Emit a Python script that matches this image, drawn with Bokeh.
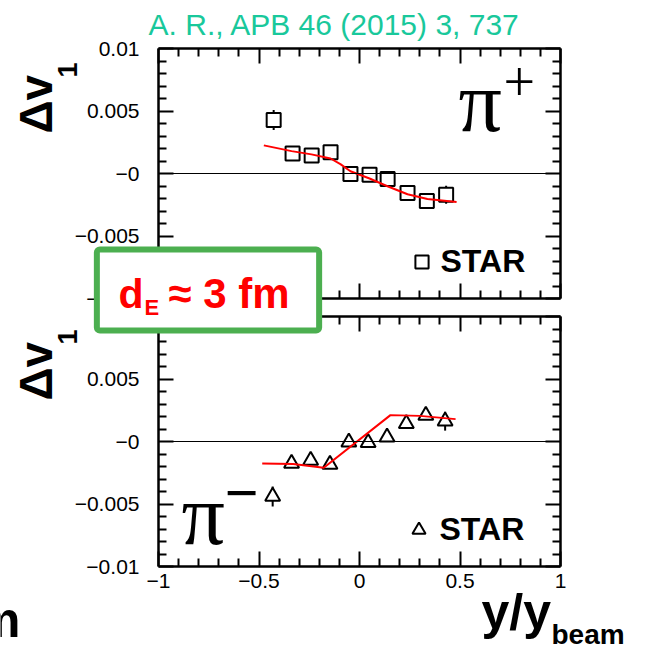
import numpy as np
from bokeh.plotting import figure
from bokeh.models import (Range1d, LinearAxis, FixedTicker, Label,
                          Legend, LegendItem)
from bokeh.embed import file_html
from bokeh.resources import INLINE

# ---------------- data ----------------
# pi+ (top panel), STAR points
pip_x = [-0.427, -0.333, -0.238, -0.144, -0.045, 0.050, 0.140, 0.239, 0.335, 0.431]
pip_y = [0.00428, 0.00160, 0.00145, 0.00170, -0.00003, -0.00010, -0.00043, -0.00156, -0.00220, -0.00170]
pip_err = [0.00080, 0.00030, 0.00030, 0.00030, 0.00030, 0.00030, 0.00030, 0.00030, 0.00030, 0.00072]
# pi+ model curve
pip_mx = [-0.476, -0.338, -0.239, -0.144, -0.095, -0.045, 0.050, 0.139, 0.239, 0.338, 0.483]
pip_my = [0.00225, 0.00179, 0.00153, 0.00120, 0.00075, 0.00018, -0.00040, -0.00102, -0.00166, -0.00204, -0.00228]

# pi- (bottom panel), STAR points
pim_x = [-0.432, -0.338, -0.243, -0.147, -0.053, 0.043, 0.137, 0.233, 0.330, 0.426]
pim_y = [-0.00440, -0.00176, -0.00152, -0.00184, -0.00005, -0.00010, 0.00035, 0.00142, 0.00208, 0.00163]
pim_err = [0.00080, 0.00030, 0.00030, 0.00030, 0.00030, 0.00030, 0.00030, 0.00030, 0.00030, 0.00076]
# pi- model curve
pim_mx = [-0.484, -0.330, -0.178, 0.154, 0.300, 0.478]
pim_my = [-0.00176, -0.00180, -0.00210, 0.00211, 0.00205, 0.00179]

# ticks
x_major = [-1.0, -0.5, 0.0, 0.5, 1.0]
x_labels = ["\u22121", "\u22120.5", "0", "0.5", "1"]
y_major = [-0.01, -0.005, 0.0, 0.005, 0.01]
y_labels = ["\u22120.01", "\u22120.005", "\u22120", "0.005", "0.01"]

x_minor = [round(v, 2) for v in np.arange(-1.0, 1.0001, 0.1) if round(v, 2) not in x_major]
y_minor = [round(v, 4) for v in np.arange(-0.01, 0.01001, 0.001) if round(v, 4) not in y_major]

# ---------------- layout (canvas px) ----------------
W, H = 631, 652
XL, XR = 158, 560            # x = -1 and x = 1
TOP_T, BOT_T = 48, 316       # y = 0.01 of top / bottom panel
PX_Y = 0.02 / 250            # data units per pixel (y)
PX_X = 2.0 / (XR - XL)       # data units per pixel (x)

p = figure(width=W, height=H, output_backend="svg", toolbar_location=None,
           x_range=Range1d(-1 - XL * PX_X, 1 + (W - XR) * PX_X),
           y_range=Range1d(0.01 - (H - TOP_T) * PX_Y, 0.01 + TOP_T * PX_Y),
           min_border=0, x_axis_type=None, y_axis_type=None)
p.extra_y_ranges = {"bot": Range1d(0.01 - (H - BOT_T) * PX_Y, 0.01 + BOT_T * PX_Y)}
p.outline_line_color = None
p.background_fill_color = "white"
p.border_fill_color = "white"

FONT = "Liberation Sans"


def style_axis(ax, show_labels, overrides=None, standoff=10):
    ax.major_tick_in = 15
    ax.major_tick_out = 0
    ax.minor_tick_in = 8
    ax.minor_tick_out = 0
    ax.axis_line_width = 2.5
    ax.axis_line_color = "black"
    ax.major_tick_line_width = 2
    ax.minor_tick_line_width = 2
    ax.major_tick_line_color = "black"
    ax.minor_tick_line_color = "black"
    ax.major_label_text_font = FONT
    ax.major_label_text_font_size = "21px"
    ax.major_label_text_color = "black"
    ax.major_label_standoff = standoff
    if show_labels:
        ax.major_label_overrides = overrides
    else:
        ax.major_label_text_alpha = 0
        ax.major_label_text_font_size = "1px"
    return ax


def yaxis(rng, fixed, labels=True):
    ax = LinearAxis(y_range_name=rng, bounds=(-0.01, 0.01), fixed_location=fixed,
                    ticker=FixedTicker(ticks=y_major, minor_ticks=y_minor))
    return style_axis(ax, labels, dict(zip(y_major, y_labels)), standoff=19)


def xaxis(rng, fixed, labels=False):
    ax = LinearAxis(y_range_name=rng, bounds=(-1, 1), fixed_location=fixed,
                    ticker=FixedTicker(ticks=x_major, minor_ticks=x_minor))
    return style_axis(ax, labels, dict(zip(x_major, x_labels)), standoff=7)


def zero_line(rng):
    ax = LinearAxis(y_range_name=rng, bounds=(-1, 1), fixed_location=0,
                    ticker=FixedTicker(ticks=[]))
    ax.axis_line_width = 1
    ax.axis_line_color = "black"
    ax.major_tick_line_color = None
    ax.minor_tick_line_color = None
    ax.major_label_text_alpha = 0
    ax.major_label_text_font_size = "1px"
    return ax


for rng in ("default", "bot"):
    p.add_layout(zero_line(rng), "below")
    p.add_layout(yaxis(rng, -1), "left")
    p.add_layout(yaxis(rng, 1, labels=False), "right")
    p.add_layout(xaxis(rng, 0.01), "above")
    p.add_layout(xaxis(rng, -0.01, labels=(rng == "bot")), "below")

# ---------------- data marks ----------------
pip_lo = [y - e for y, e in zip(pip_y, pip_err)]
pip_hi = [y + e for y, e in zip(pip_y, pip_err)]
pim_lo = [y - e for y, e in zip(pim_y, pim_err)]
pim_hi = [y + e for y, e in zip(pim_y, pim_err)]

p.segment(x0=pip_x, y0=pip_lo, x1=pip_x, y1=pip_hi, line_color="black", line_width=2)
sq = p.scatter(pip_x, pip_y, marker="square", size=14, line_color="black",
               line_width=2, fill_color="white")
p.line(pip_mx, pip_my, line_color="red", line_width=2)

p.segment(x0=pim_x, y0=pim_lo, x1=pim_x, y1=pim_hi, line_color="black",
          line_width=2, y_range_name="bot")
tr = p.scatter(pim_x, pim_y, marker="triangle", size=15, line_color="black",
               line_width=2, fill_color="white", y_range_name="bot")
p.line(pim_mx, pim_my, line_color="red", line_width=2, y_range_name="bot")


# legends
def legend(r, px_left, py_bottom, standoff):
    lg = Legend(items=[LegendItem(label="STAR", renderers=[r])],
                location=(px_left, H - py_bottom),
                border_line_color=None, background_fill_alpha=0,
                padding=0, margin=0, spacing=0,
                glyph_width=33, glyph_height=33, label_standoff=standoff,
                label_height=33,
                label_text_font=FONT, label_text_font_style="bold",
                label_text_font_size="32px", label_text_color="black")
    p.add_layout(lg)


legend(sq, 404.5, 279.5, 3)
legend(tr, 401.5, 547.5, 5)


# ---------------- texts ----------------
def lab(text, px, py, size, font=FONT, style="normal", color="black",
        align="left", baseline="alphabetic", angle=0.0):
    l = Label(x=px, y=H - py, x_units="screen", y_units="screen",
              text=text, text_font=font, text_font_size=f"{size}px",
              text_font_style=style, text_color=color, text_align=align,
              text_baseline=baseline, angle=angle)
    p.add_layout(l)
    return l


# reference line at top
lab("A. R., APB 46 (2015) 3, 737", 334, 24, 30, color="#19c89b", align="center")

# y axis titles (rotated)
for dy in (0, 267):
    lab("\u0394v", 35, 133 + dy, 46, style="bold", angle=np.pi / 2)
    lab("1", 67, 77 + dy, 27, style="bold", angle=np.pi / 2)

# particle labels
lab("\u03c0", 458, 101, 86, font="Liberation Serif")
lab("+", 503, 81, 56, font="Liberation Serif")
lab("\u03c0", 181, 514, 86, font="Liberation Serif")
lab("\u2212", 224, 493, 60, font="Liberation Serif", style="bold")

# x axis title
lab("y/y", 481, 611, 50, style="bold")
lab("beam", 551, 634, 28, style="bold")
# partial letter at the left edge
lab("m", 20, 619, 50, style="bold", align="right")

# green box with d_E
box = Label(x=207.5, y=H - 289.5, x_units="screen", y_units="screen",
            text=" ", text_font_size="1px", text_align="center",
            text_baseline="middle", background_fill_color="white",
            border_line_color="#4caf50", border_line_width=6,
            padding=(111, 40), border_radius=3)
p.add_layout(box)
lab("d", 118, 293, 41, style="bold", color="#ff0000")
lab("E", 144, 307, 22, style="bold", color="#ff0000")
lab("\u2248 3 fm", 168, 293, 42, style="bold", color="#ff0000")

open("out.html", "w").write(file_html(p, INLINE))
